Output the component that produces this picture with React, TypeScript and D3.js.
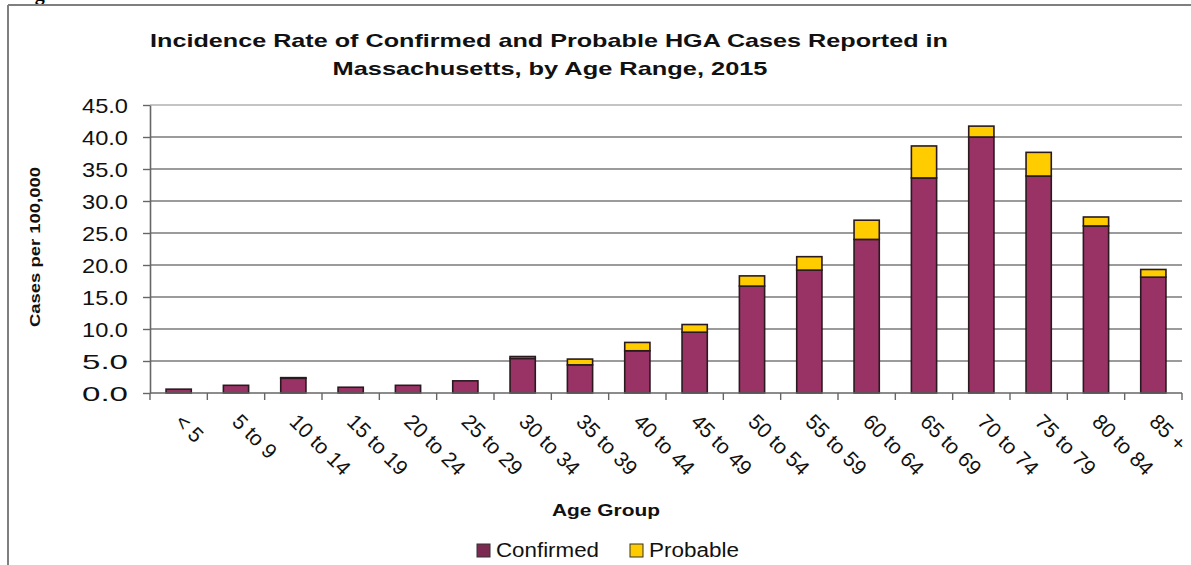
import React, { useEffect, useRef } from 'react';
import * as d3 from 'd3';

const ageGroups = ['< 5', '5 to 9', '10 to 14', '15 to 19', '20 to 24', '25 to 29', '30 to 34', '35 to 39', '40 to 44', '45 to 49', '50 to 54', '55 to 59', '60 to 64', '65 to 69', '70 to 74', '75 to 79', '80 to 84', '85 +'];
const confirmed = [0.6, 1.2, 2.3, 0.9, 1.2, 1.9, 5.4, 4.4, 6.6, 9.5, 16.7, 19.2, 24.0, 33.6, 40.0, 33.9, 26.1, 18.1];
const probable = [0.0, 0.0, 0.1, 0.0, 0.0, 0.0, 0.3, 0.9, 1.3, 1.2, 1.6, 2.1, 3.0, 5.0, 1.7, 3.7, 1.4, 1.2];
const yTicks = [0, 5, 10, 15, 20, 25, 30, 35, 40, 45];
const seriesNames = ['Confirmed', 'Probable'];
const seriesColors = ['#993366', '#FFCC00'];

const FONT = '"Liberation Sans", Arial, sans-serif';

const App: React.FC = () => {
  const svgRef = useRef<SVGSVGElement>(null);

  useEffect(() => {
    if (!svgRef.current) return;
    const width = 1191;
    const height = 565;
    const left = 150, right = 1182, top = 105, bottom = 393;

    const svg = d3.select(svgRef.current);
    svg.selectAll('*').remove();

    svg.append('rect').attr('width', width).attr('height', height).attr('fill', 'white');

    // page fragment above the frame (cut off in the source too)
    svg.append('text')
      .attr('x', 17).attr('y', 0)
      .attr('font-family', '"Liberation Serif", "Times New Roman", serif')
      .attr('font-weight', 'bold').attr('font-size', '20px')
      .attr('fill', '#000')
      .text('Figure');

    // frame
    svg.append('line').attr('x1', 8).attr('x2', width).attr('y1', 5).attr('y2', 5)
      .attr('stroke', '#7f7f7f').attr('stroke-width', 2);
    svg.append('line').attr('x1', 8).attr('x2', 8).attr('y1', 5).attr('y2', height)
      .attr('stroke', '#7f7f7f').attr('stroke-width', 2);

    const x = d3.scaleBand().domain(ageGroups).range([left, right]).paddingInner(0.56).paddingOuter(0.28);
    const y = d3.scaleLinear().domain([0, 45]).range([bottom, top]);

    // gridlines
    svg.append('g').selectAll('line').data(yTicks.filter(t => t > 0)).join('line')
      .attr('x1', left).attr('x2', right)
      .attr('y1', d => y(d)).attr('y2', d => y(d))
      .attr('stroke', d => (d === 45 ? '#b0b0b0' : '#7a7a7a'))
      .attr('stroke-width', 1.6);

    // y axis
    const yAxis = svg.append('g').attr('transform', `translate(${left},0)`)
      .call(d3.axisLeft(y).tickValues(yTicks).tickSize(7).tickSizeOuter(0).tickFormat(d => d3.format('.1f')(d as number)));
    yAxis.select('.domain').attr('stroke', '#666').attr('stroke-width', 1.6);
    yAxis.selectAll('.tick line').attr('stroke', '#666').attr('stroke-width', 1.4);
    yAxis.selectAll('.tick text')
      .attr('x', -22)
      .attr('dy', '0.36em')
      .attr('font-family', FONT).attr('font-size', '21px').attr('fill', '#111')
      .attr('textLength', 46).attr('lengthAdjust', 'spacingAndGlyphs');

    // bars
    const stackData = ageGroups.map((g, i) => ({ group: g, Confirmed: confirmed[i], Probable: probable[i] }));
    const stacked = d3.stack<any>().keys(seriesNames)(stackData);
    svg.append('g').selectAll('g').data(stacked).join('g')
      .attr('fill', (_, i) => seriesColors[i])
      .selectAll('rect').data(d => d.filter(s => s[1] - s[0] > 0)).join('rect')
      .attr('x', d => x(d.data.group)!)
      .attr('width', x.bandwidth())
      .attr('y', d => y(d[1]))
      .attr('height', d => y(d[0]) - y(d[1]))
      .attr('stroke', '#2a1a20').attr('stroke-width', 1.6);

    // x axis
    const step = x.step();
    const boundaries = d3.range(ageGroups.length + 1).map(i => left + i * step);
    svg.append('line').attr('x1', left).attr('x2', right).attr('y1', bottom).attr('y2', bottom)
      .attr('stroke', '#666').attr('stroke-width', 1.6);
    svg.append('g').selectAll('line').data(boundaries).join('line')
      .attr('x1', d => d).attr('x2', d => d).attr('y1', bottom).attr('y2', bottom + 7)
      .attr('stroke', '#666').attr('stroke-width', 1.4);

    svg.append('g').selectAll('text').data(ageGroups).join('text')
      .attr('transform', d => `translate(${x(d)! + x.bandwidth() / 2 - 5},${bottom + 30}) rotate(45)`)
      .attr('font-family', FONT).attr('font-size', '21px').attr('fill', '#111')
      .text(d => d);

    // titles
    svg.append('text').attr('x', 549).attr('y', 47).attr('text-anchor', 'middle')
      .attr('font-family', FONT).attr('font-weight', 'bold').attr('font-size', '19px').attr('fill', '#111')
      .attr('textLength', 798).attr('lengthAdjust', 'spacingAndGlyphs')
      .text('Incidence Rate of Confirmed and Probable HGA Cases Reported in');
    svg.append('text').attr('x', 550).attr('y', 75).attr('text-anchor', 'middle')
      .attr('font-family', FONT).attr('font-weight', 'bold').attr('font-size', '19px').attr('fill', '#111')
      .attr('textLength', 435).attr('lengthAdjust', 'spacingAndGlyphs')
      .text('Massachusetts, by Age Range, 2015');

    svg.append('text').attr('transform', 'translate(40,247) rotate(-90)').attr('text-anchor', 'middle')
      .attr('font-family', FONT).attr('font-weight', 'bold').attr('font-size', '15px').attr('fill', '#111')
      .attr('textLength', 160).attr('lengthAdjust', 'spacingAndGlyphs')
      .text('Cases per 100,000');

    svg.append('text').attr('x', 606).attr('y', 516).attr('text-anchor', 'middle')
      .attr('font-family', FONT).attr('font-weight', 'bold').attr('font-size', '17px').attr('fill', '#111')
      .attr('textLength', 108).attr('lengthAdjust', 'spacingAndGlyphs')
      .text('Age Group');

    // legend
    const legendX = [477, 630];
    const legendTextLen = [103, 90];
    const legend = svg.append('g').selectAll('g').data(seriesNames).join('g')
      .attr('transform', (_, i) => `translate(${legendX[i]},544)`);
    legend.append('rect').attr('width', 13).attr('height', 13)
      .attr('fill', (_, i) => (i === 0 ? '#7d2a52' : seriesColors[i]))
      .attr('stroke', '#333').attr('stroke-width', 1);
    legend.append('text').attr('x', 19).attr('y', 13)
      .attr('font-family', FONT).attr('font-size', '20px').attr('fill', '#111')
      .attr('textLength', (_, i) => legendTextLen[i]).attr('lengthAdjust', 'spacingAndGlyphs')
      .text(d => d);
  }, []);

  return (
    <svg ref={svgRef} width={1191} height={565}
      style={{ position: 'absolute', left: 0, top: 0, display: 'block' }} />
  );
};

export default App;
